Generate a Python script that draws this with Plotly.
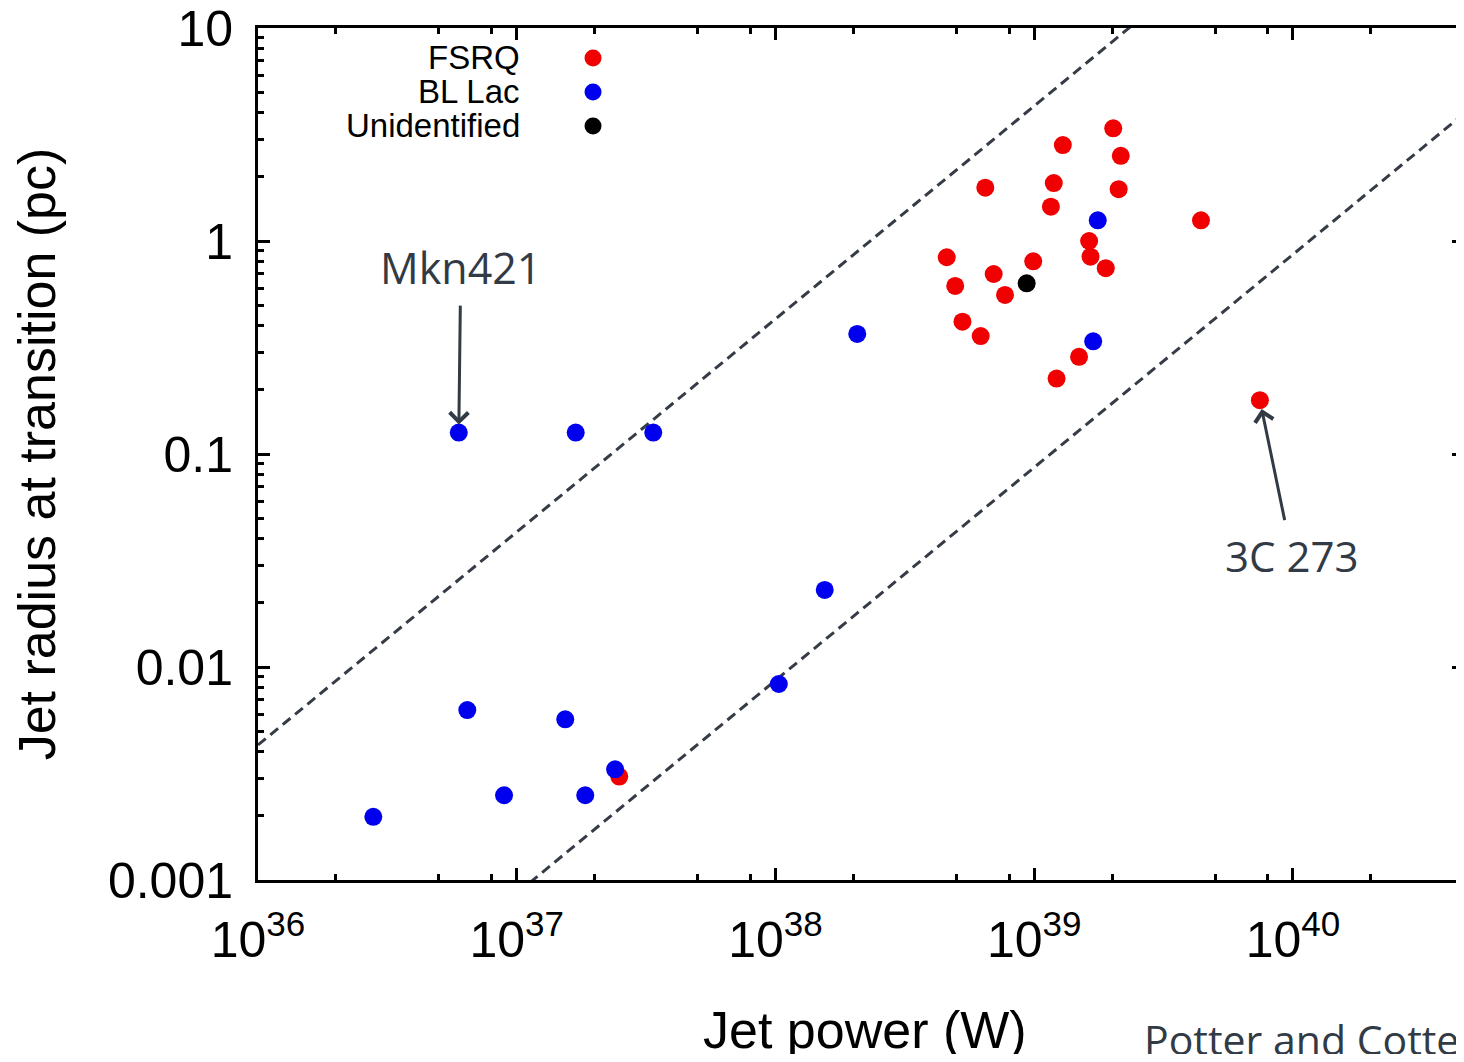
import numpy as np
import plotly.graph_objects as go

# ---------------- data ----------------
fsrq_power = [2.02e39, 1.29e39, 2.16e39, 6.47e38, 1.19e39, 2.12e39, 1.16e39, 4.41e39,
              1.63e39, 4.59e38, 9.91e38, 1.65e39, 1.89e39, 6.97e38, 4.95e38, 7.71e38,
              5.28e38, 6.21e38, 1.49e39, 1.22e39, 7.45e39, 2.49e37]
fsrq_radius = [3.38, 2.82, 2.51, 1.78, 1.87, 1.75, 1.45, 1.25,
               1.00, 0.839, 0.803, 0.844, 0.745, 0.700, 0.615, 0.558,
               0.418, 0.358, 0.286, 0.226, 0.179, 0.00306]

bllac_power = [5.97e36, 1.69e37, 3.37e37, 2.07e38, 1.76e39, 1.69e39, 1.55e38, 1.03e38,
               6.44e36, 1.54e37, 2.40e37, 8.93e36, 1.84e37, 2.79e36]
bllac_radius = [0.126, 0.126, 0.126, 0.366, 1.25, 0.338, 0.0230, 0.00832,
                0.00628, 0.00568, 0.00331, 0.00250, 0.00250, 0.00198]

unid_power = [9.35e38]
unid_radius = [0.633]

# dashed envelopes: R = P * 10**offset  (slope 1 in log-log)
envelope_power = [1e36, 1e41]
upper_offset = -38.366
lower_offset = -40.063

series_names = ["FSRQ", "BL Lac", "Unidentified"]
series_colors = ["#f00000", "#0000ee", "#000000"]

labelled = {"Mkn421": (5.97e36, 0.126), "3C 273": (7.45e39, 0.179)}

x_tick_exponents = [36, 37, 38, 39, 40]
y_tick_values = [0.001, 0.01, 0.1, 1, 10]
y_tick_labels = ["0.001", "0.01", "0.1", "1", "10"]

# ---------------- figure ----------------
FONT = "Liberation Sans, Arial, Helvetica, sans-serif"
NOTE_FONT = "Open Sans, Noto Sans, sans-serif"
NOTE_COLOR = "#323a45"
LINE_COLOR = "#363c46"

fig = go.Figure()

env_x = np.array(envelope_power)
for off in (upper_offset, lower_offset):
    fig.add_trace(go.Scatter(
        x=env_x, y=env_x * 10.0 ** off, mode="lines",
        line=dict(color=LINE_COLOR, width=3, dash="10px,6px"),
        showlegend=False, hoverinfo="skip"))

for name, xs, ys, col in zip(series_names,
                             [fsrq_power, bllac_power, unid_power],
                             [fsrq_radius, bllac_radius, unid_radius],
                             series_colors):
    fig.add_trace(go.Scatter(
        x=xs, y=ys, mode="markers", name=name,
        marker=dict(size=18, color=col, line=dict(width=0)),
        showlegend=False))

# custom legend (text left, marker right, as in the reference)
leg_x_text = 0.2189
leg_x_marker = 0.2778
leg_y = [0.9648, 0.9249, 0.8850]
for name, col, y in zip(series_names, series_colors, leg_y):
    fig.add_annotation(xref="paper", yref="paper", x=leg_x_text, y=y,
                       text=name, showarrow=False, xanchor="right", yanchor="middle",
                       font=dict(family=FONT, size=33, color="black"))
    fig.add_shape(type="circle", xref="paper", yref="paper",
                  xsizemode="pixel", ysizemode="pixel",
                  xanchor=leg_x_marker, yanchor=y, x0=-8.5, x1=8.5, y0=-8.5, y1=8.5,
                  fillcolor=col, line=dict(width=0))

# labelled sources (text with arrow pointing at the source)
mx, my = labelled["Mkn421"]
fig.add_annotation(x=np.log10(mx), y=np.log10(my), text="Mkn421", showarrow=True,
                   ax=2, ay=-165, axref="pixel", ayref="pixel", borderpad=8,
                   arrowhead=4, arrowsize=1.2, arrowwidth=3, arrowcolor=NOTE_COLOR,
                   standoff=8,
                   font=dict(family=NOTE_FONT, size=43, color=NOTE_COLOR))

cx, cy = labelled["3C 273"]
fig.add_annotation(x=np.log10(cx), y=np.log10(cy), text="3C 273", showarrow=True,
                   ax=32, ay=155, axref="pixel", ayref="pixel", borderpad=6,
                   arrowhead=4, arrowsize=1.2, arrowwidth=3, arrowcolor=NOTE_COLOR,
                   standoff=9,
                   font=dict(family=NOTE_FONT, size=42, color=NOTE_COLOR))

# x-axis title (placed as paper text so it can sit as low as in the reference)
fig.add_annotation(xref="paper", yref="paper", x=0.503, y=-0.176,
                   text="Jet power (W)", showarrow=False,
                   xanchor="center", yanchor="middle",
                   font=dict(family=FONT, size=52, color="black"))

fig.add_annotation(xref="paper", yref="paper", x=0.733, y=-0.187,
                   text="Potter and Cotter (2013)", showarrow=False,
                   xanchor="left", yanchor="middle",
                   font=dict(family=NOTE_FONT, size=41, color=NOTE_COLOR))

x_minor = [m * 10.0 ** e for e in range(35, 41) for m in (2, 5, 8)]
y_minor = [m * 10.0 ** e for e in range(-4, 2) for m in range(2, 10)]

fig.update_xaxes(
    type="log", range=[36, 40.661],
    tickmode="array", tickvals=[10.0 ** e for e in x_tick_exponents],
    ticktext=[f"10<sup>{e}</sup>" for e in x_tick_exponents],
    ticks="inside", ticklen=12, tickwidth=2.5, tickcolor="black",
    minor=dict(ticks="inside", ticklen=6, tickwidth=2.5, tickcolor="black",
               tickmode="array", tickvals=x_minor, showgrid=False),
    showline=True, linewidth=3, linecolor="black", mirror="ticks",
    showgrid=False, zeroline=False,
    tickfont=dict(family=FONT, size=50, color="black"),
    ticklabelstandoff=14, ticklabeloverflow="allow",
    automargin=False)

fig.update_yaxes(
    type="log", range=[-3, 1],
    tickmode="array", tickvals=y_tick_values, ticktext=y_tick_labels,
    ticks="inside", ticklen=12, tickwidth=2.5, tickcolor="black",
    minor=dict(ticks="inside", ticklen=6, tickwidth=2.5, tickcolor="black",
               tickmode="array", tickvals=y_minor, showgrid=False),
    showline=True, linewidth=3, linecolor="black", mirror="ticks",
    showgrid=False, zeroline=False,
    tickfont=dict(family=FONT, size=50, color="black"),
    ticklabelstandoff=12, ticklabeloverflow="allow",
    title=dict(text="Jet radius at transition (pc)",
               font=dict(family=FONT, size=52, color="black"), standoff=38),
    automargin=False)

# the page adds an 8 px body margin, so the figure is sized to fit the window
fig.update_layout(
    width=1456, height=1046, autosize=False,
    margin=dict(l=250, r=0, t=20, b=174),
    plot_bgcolor="white", paper_bgcolor="white",
    showlegend=False)

fig.write_html("out.html")
